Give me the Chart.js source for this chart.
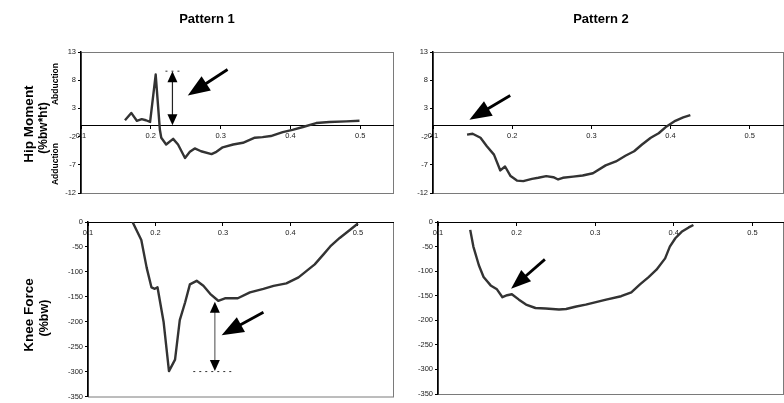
<!DOCTYPE html>
<html>
<head>
<meta charset="utf-8">
<script src="https://cdn.jsdelivr.net/npm/chart.js@4.4.0/dist/chart.umd.min.js"></script>
<style>
  body { margin: 0; background: #fff; }
  #wrap { position: relative; width: 784px; height: 403px; overflow: hidden;
          font-family: Arial, "Liberation Sans", sans-serif; }
  #wrap canvas { position: absolute; left: 0; top: 0; }
  .lbl { position: absolute; font-weight: bold; color: #000; white-space: nowrap;
         transform: translate(-50%, -50%); }
  .rot { transform: translate(-50%, -50%) rotate(-90deg); }
</style>
</head>
<body>
<div id="wrap">
  <canvas id="c1" width="784" height="403"></canvas>
  <canvas id="c2" width="784" height="403"></canvas>
  <canvas id="c3" width="784" height="403"></canvas>
  <canvas id="c4" width="784" height="403"></canvas>

  <div class="lbl" style="left:207px;top:18px;font-size:13px">Pattern 1</div>
  <div class="lbl" style="left:601px;top:18px;font-size:13px">Pattern 2</div>

  <div class="lbl rot" style="left:28px;top:124px;font-size:13.5px">Hip Moment</div>
  <div class="lbl rot" style="left:43px;top:128px;font-size:12px">(%bw*ht)</div>
  <div class="lbl rot" style="left:55px;top:84px;font-size:8.5px">Abduction</div>
  <div class="lbl rot" style="left:55px;top:164px;font-size:8.5px">Adduction</div>

  <div class="lbl rot" style="left:28px;top:315px;font-size:13.5px">Knee Force</div>
  <div class="lbl rot" style="left:44px;top:318px;font-size:12.5px">(%bw)</div>
</div>

<script>
// tick labels
const timeTicks = [0.1, 0.2, 0.3, 0.4, 0.5];
const hipTicks = [-12, -7, -2, 3, 8, 13];
const kneeTicks = [-350, -300, -250, -200, -150, -100, -50, 0];

// Hip moment, pattern 1
const hipTime1 = [0.163, 0.172, 0.180, 0.187, 0.193, 0.199, 0.207, 0.213, 0.215, 0.222, 0.232, 0.239,
  0.249, 0.256, 0.263, 0.272, 0.287, 0.294, 0.303, 0.318, 0.332, 0.349, 0.360, 0.372, 0.389, 0.403,
  0.418, 0.437, 0.456, 0.480, 0.499];
const hipMoment1 = [0.9, 2.2, 0.8, 1.1, 0.9, 0.6, 9.0, -0.8, -2.2, -3.4, -2.4, -3.4,
  -5.8, -4.7, -4.1, -4.6, -5.1, -4.7, -3.9, -3.4, -3.1, -2.2, -2.1, -1.9, -1.2, -0.8,
  -0.3, 0.4, 0.6, 0.7, 0.8];

// Hip moment, pattern 2
const hipTime2 = [0.143, 0.150, 0.160, 0.168, 0.177, 0.185, 0.191, 0.198, 0.206, 0.214, 0.225, 0.233,
  0.243, 0.252, 0.258, 0.264, 0.277, 0.289, 0.302, 0.318, 0.331, 0.343, 0.354, 0.364, 0.375, 0.385,
  0.395, 0.406, 0.416, 0.425];
const hipMoment2 = [-1.65, -1.5, -2.2, -3.7, -5.2, -8.0, -7.3, -9.0, -9.8, -9.9, -9.5, -9.3,
  -9.0, -9.2, -9.6, -9.3, -9.1, -8.9, -8.5, -7.1, -6.4, -5.4, -4.6, -3.4, -2.2, -1.4,
  -0.2, 0.8, 1.4, 1.8];

// Knee force, pattern 1
const kneeTime1 = [0.166, 0.179, 0.187, 0.194, 0.199, 0.203, 0.212, 0.220, 0.229, 0.236, 0.244, 0.251,
  0.261, 0.271, 0.281, 0.293, 0.303, 0.322, 0.340, 0.360, 0.375, 0.394, 0.412, 0.424, 0.436, 0.449,
  0.459, 0.473, 0.488, 0.500];
const kneeForce1 = [0, -36, -92, -131, -134, -131, -200, -299, -276, -197, -161, -125,
  -118, -128, -144, -158, -153, -153, -141, -134, -128, -123, -111, -98, -85, -65,
  -49, -32, -16, -3];

// Knee force, pattern 2
const kneeTime2 = [0.141, 0.145, 0.152, 0.158, 0.167, 0.175, 0.182, 0.188, 0.194, 0.203, 0.212, 0.224,
  0.237, 0.254, 0.263, 0.276, 0.288, 0.301, 0.314, 0.333, 0.346, 0.357, 0.368, 0.378, 0.389, 0.395,
  0.402, 0.410, 0.419, 0.425];
const kneeForce2 = [-16, -50, -88, -112, -129, -137, -153, -149, -147, -158, -168, -175,
  -176, -178, -177, -172, -168, -163, -158, -151, -143, -127, -112, -97, -74, -50,
  -33, -20, -11, -6];

// annotations in data units: pointer = [tailX, tailY, tipX, tipY], span = [x, y1, y2], dots = [x1, x2, y]
const hipPointer1 = [0.310, 9.9, 0.253, 5.3];
const hipSpan1 = [0.231, 0, 9.6];
const hipDots1 = [0.221, 0.242, 9.6];
const hipPointer2 = [0.1975, 5.3, 0.146, 1.0];
const kneePointer1 = [0.360, -181, 0.298, -227];
const kneeSpan1 = [0.288, -160, -299];
const kneeDots1 = [0.256, 0.318, -300];
const kneePointer2 = [0.236, -76, 0.193, -136];

const FONT = 'Arial, "Liberation Sans", sans-serif';
const Y_AXIS_W = 30;

function toPoints(xs, ys) {
  return xs.map((x, i) => ({ x: x, y: ys[i] }));
}

function drawHead(ctx, x1, y1, x2, y2, len, wid) {
  const a = Math.atan2(y2 - y1, x2 - x1);
  const bx = x2 - Math.cos(a) * len, by = y2 - Math.sin(a) * len;
  const nx = -Math.sin(a) * wid / 2, ny = Math.cos(a) * wid / 2;
  ctx.beginPath();
  ctx.moveTo(x2, y2);
  ctx.lineTo(bx + nx, by + ny);
  ctx.lineTo(bx - nx, by - ny);
  ctx.closePath();
  ctx.fill();
}

const framePlugin = {
  id: "frame",
  beforeDraw(chart) {
    const { ctx, chartArea: a } = chart;
    ctx.save();
    ctx.strokeStyle = "#7a7a7a";
    ctx.lineWidth = 1;
    ctx.strokeRect(a.left + 0.5, a.top + 0.5, a.right - a.left, a.bottom - a.top);
    ctx.restore();
  },
};

const notesPlugin = {
  id: "notes",
  afterDraw(chart, args, opts) {
    const { ctx, scales } = chart;
    const px = (v) => scales.x.getPixelForValue(v);
    const py = (v) => scales.y.getPixelForValue(v);
    ctx.save();
    if (opts.dots) {
      const [x1, x2, y] = opts.dots;
      ctx.strokeStyle = "#333";
      ctx.lineWidth = 1;
      ctx.setLineDash([2, 4]);
      ctx.beginPath();
      ctx.moveTo(px(x1), py(y));
      ctx.lineTo(px(x2), py(y));
      ctx.stroke();
      ctx.setLineDash([]);
    }
    if (opts.span) {
      const [x, y1, y2] = opts.span;
      const X = px(x), A = py(y1), B = py(y2);
      ctx.strokeStyle = opts.spanColor || "#222";
      ctx.fillStyle = "#000";
      ctx.lineWidth = 1.2;
      const dir = B > A ? 1 : -1;
      ctx.beginPath();
      ctx.moveTo(X, A + dir * 8);
      ctx.lineTo(X, B - dir * 8);
      ctx.stroke();
      drawHead(ctx, X, B, X, A, 11, 10);
      drawHead(ctx, X, A, X, B, 11, 10);
    }
    if (opts.pointer) {
      const [tx, ty, hx, hy] = opts.pointer;
      const x1 = px(tx), y1 = py(ty), x2 = px(hx), y2 = py(hy);
      const a = Math.atan2(y2 - y1, x2 - x1);
      const len = opts.headLen || 18;
      ctx.strokeStyle = "#000";
      ctx.fillStyle = "#000";
      ctx.lineWidth = 2.8;
      ctx.beginPath();
      ctx.moveTo(x1, y1);
      ctx.lineTo(x2 - Math.cos(a) * (len - 2), y2 - Math.sin(a) * (len - 2));
      ctx.stroke();
      drawHead(ctx, x1, y1, x2, y2, len, opts.headWid || 14);
    }
    ctx.restore();
  },
};

function makePanel(canvasId, cfg) {
  const area = cfg.area;
  return new Chart(document.getElementById(canvasId), {
    type: "line",
    data: {
      datasets: [
        {
          data: toPoints(cfg.xs, cfg.ys),
          borderColor: "#333",
          borderWidth: 2.4,
          pointRadius: 0,
          fill: false,
          tension: 0,
          borderJoinStyle: "round",
        },
      ],
    },
    options: {
      responsive: false,
      animation: false,
      devicePixelRatio: 1,
      layout: {
        padding: {
          left: area.left - Y_AXIS_W,
          top: area.top,
          right: 784 - area.right,
          bottom: 403 - area.bottom,
        },
      },
      plugins: {
        legend: { display: false },
        tooltip: { enabled: false },
        notes: cfg.notes,
      },
      scales: {
        x: {
          type: "linear",
          min: 0.1,
          max: cfg.xMax,
          position: { y: 0 },
          afterBuildTicks: (s) => {
            s.ticks = timeTicks.map((v) => ({ value: v }));
          },
          grid: { drawOnChartArea: false, tickLength: 3, color: "#000" },
          border: { color: "#000", width: 1 },
          ticks: {
            font: { family: FONT, size: 7.5 },
            color: "#222",
            padding: 3,
            maxRotation: 0,
            callback: (v) => v.toFixed(1),
          },
        },
        y: {
          type: "linear",
          min: cfg.yMin,
          max: cfg.yMax,
          afterBuildTicks: (s) => {
            s.ticks = cfg.yTicks.map((v) => ({ value: v }));
          },
          afterFit: (s) => {
            s.width = Y_AXIS_W;
          },
          grid: { drawOnChartArea: false, tickLength: 3, color: "#000" },
          border: { color: "#000", width: 1.5 },
          ticks: {
            font: { family: FONT, size: 7.5 },
            color: "#222",
            padding: 2,
            callback: (v) => String(v),
          },
        },
      },
    },
    plugins: [framePlugin, notesPlugin],
  });
}

makePanel("c1", {
  area: { left: 81, top: 52, right: 393, bottom: 193 },
  xs: hipTime1, ys: hipMoment1, xMax: 0.547,
  yMin: -12, yMax: 13, yTicks: hipTicks,
  notes: { pointer: hipPointer1, span: hipSpan1, dots: hipDots1, headLen: 22, headWid: 17 },
});
makePanel("c2", {
  area: { left: 433, top: 52, right: 783, bottom: 193 },
  xs: hipTime2, ys: hipMoment2, xMax: 0.542,
  yMin: -12, yMax: 13, yTicks: hipTicks,
  notes: { pointer: hipPointer2, headLen: 22, headWid: 17 },
});
makePanel("c3", {
  area: { left: 88, top: 222, right: 393, bottom: 399 },
  xs: kneeTime1, ys: kneeForce1, xMax: 0.552,
  yMin: -350, yMax: 0, yTicks: kneeTicks,
  notes: { pointer: kneePointer1, span: kneeSpan1, dots: kneeDots1, spanColor: "#666", headLen: 22, headWid: 17 },
});
makePanel("c4", {
  area: { left: 438, top: 222, right: 783, bottom: 394 },
  xs: kneeTime2, ys: kneeForce2, xMax: 0.539,
  yMin: -350, yMax: 0, yTicks: kneeTicks,
  notes: { pointer: kneePointer2, headLen: 20, headWid: 15 },
});
</script>
</body>
</html>
